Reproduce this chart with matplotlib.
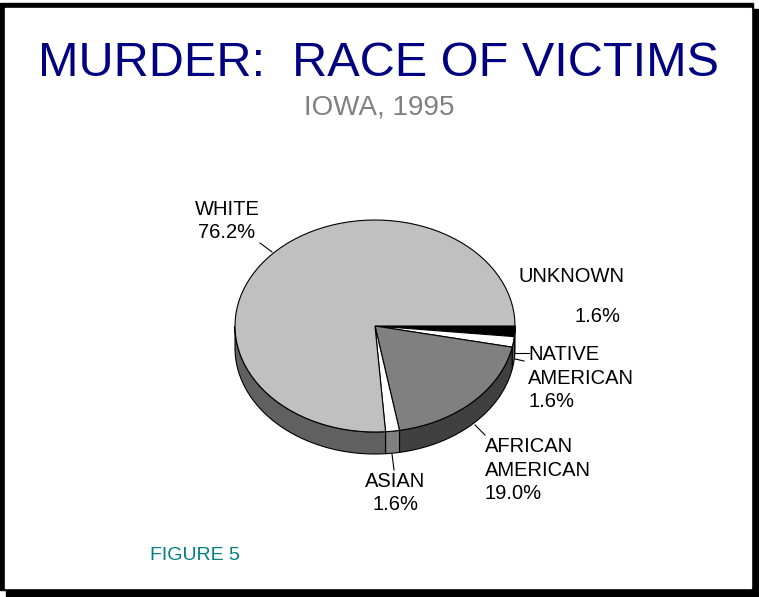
import numpy as np
import matplotlib.pyplot as plt
from matplotlib.patches import Polygon, Rectangle

plt.rcParams['font.family'] = ['Liberation Sans', 'DejaVu Sans']

# datos del grafico
categorias = ['UNKNOWN', 'NATIVE\nAMERICAN', 'AFRICAN\nAMERICAN', 'ASIAN', 'WHITE']
porcentajes = [1.6, 1.6, 19.0, 1.6, 76.2]
colores_top = ['#000000', '#ffffff', '#808080', '#ffffff', '#c0c0c0']
colores_lado = ['#000000', '#808080', '#404040', '#808080', '#606060']

fig = plt.figure(figsize=(7.59, 5.97), dpi=100)
ax = fig.add_axes([0, 0, 1, 1])
ax.set_xlim(0, 759)
ax.set_ylim(597, 0)
ax.axis('off')

# marco con sombra
ax.add_patch(Rectangle((6, 9), 752, 587, color='black', zorder=0))
ax.add_patch(Rectangle((0, 3), 753, 587, color='black', zorder=0))
ax.add_patch(Rectangle((5, 8), 746, 580, color='white', zorder=0))

# pastel 3D
cx, cy = 375, 326
rx, ry = 140, 106
prof = 22

p = np.array(porcentajes)
bordes = np.concatenate([[0], np.cumsum(p) / p.sum() * 360])


def arco(a0, a1, n=80):
    t = np.radians(np.linspace(a0, a1, n))
    return cx + rx * np.cos(t), cy + ry * np.sin(t)


# lados (solo la mitad de adelante)
for i in range(len(p)):
    a0, a1 = max(bordes[i], 0), min(bordes[i + 1], 180)
    if a1 <= a0:
        continue
    x, y = arco(a0, a1)
    pts = np.column_stack([np.concatenate([x, x[::-1]]),
                           np.concatenate([y, y[::-1] + prof])])
    ax.add_patch(Polygon(pts, closed=True, fc=colores_lado[i], ec='black', lw=0.8, zorder=2))

# caras de arriba
for i in range(len(p)):
    x, y = arco(bordes[i], bordes[i + 1])
    pts = np.column_stack([np.concatenate([[cx], x]), np.concatenate([[cy], y])])
    ax.add_patch(Polygon(pts, closed=True, fc=colores_top[i], ec='black', lw=0.8, zorder=3))

# titulos
ax.text(379, 63, 'MURDER:  RACE OF VICTIMS', color='#000080', fontsize=35,
        ha='center', va='center')
ax.text(379, 107, 'IOWA, 1995', color='#808080', fontsize=20, ha='center', va='center')
ax.text(150, 556, 'FIGURE 5', color='#008080', fontsize=14, ha='left', va='center')

# etiquetas
fs = 14.5
ls = 1.3
ax.text(227, 221, 'WHITE\n' + '%.1f%%' % porcentajes[4], fontsize=fs, ha='center',
        va='center', linespacing=ls)
ax.plot([260, 272], [243, 252], color='black', lw=0.8)

ax.text(571, 277, categorias[0], fontsize=fs, ha='center', va='center')
ax.text(598, 316, '%.1f%%' % porcentajes[0], fontsize=fs, ha='center', va='center')

ax.text(528, 378, categorias[1] + '\n' + '%.1f%%' % porcentajes[1], fontsize=fs,
        ha='left', va='center', linespacing=ls)
ax.plot([515, 529], [353, 353], color='black', lw=0.8)
ax.plot([515, 524], [359, 361], color='black', lw=0.8)

ax.text(485, 470, categorias[2] + '\n' + '%.1f%%' % porcentajes[2], fontsize=fs,
        ha='left', va='center', linespacing=ls)
ax.plot([475, 485], [425, 435], color='black', lw=0.8)

ax.text(395, 493, categorias[3] + '\n' + '%.1f%%' % porcentajes[3], fontsize=fs,
        ha='center', va='center', linespacing=ls)
ax.plot([392, 394], [454, 470], color='black', lw=0.8)

plt.savefig('out.png', dpi=100)
